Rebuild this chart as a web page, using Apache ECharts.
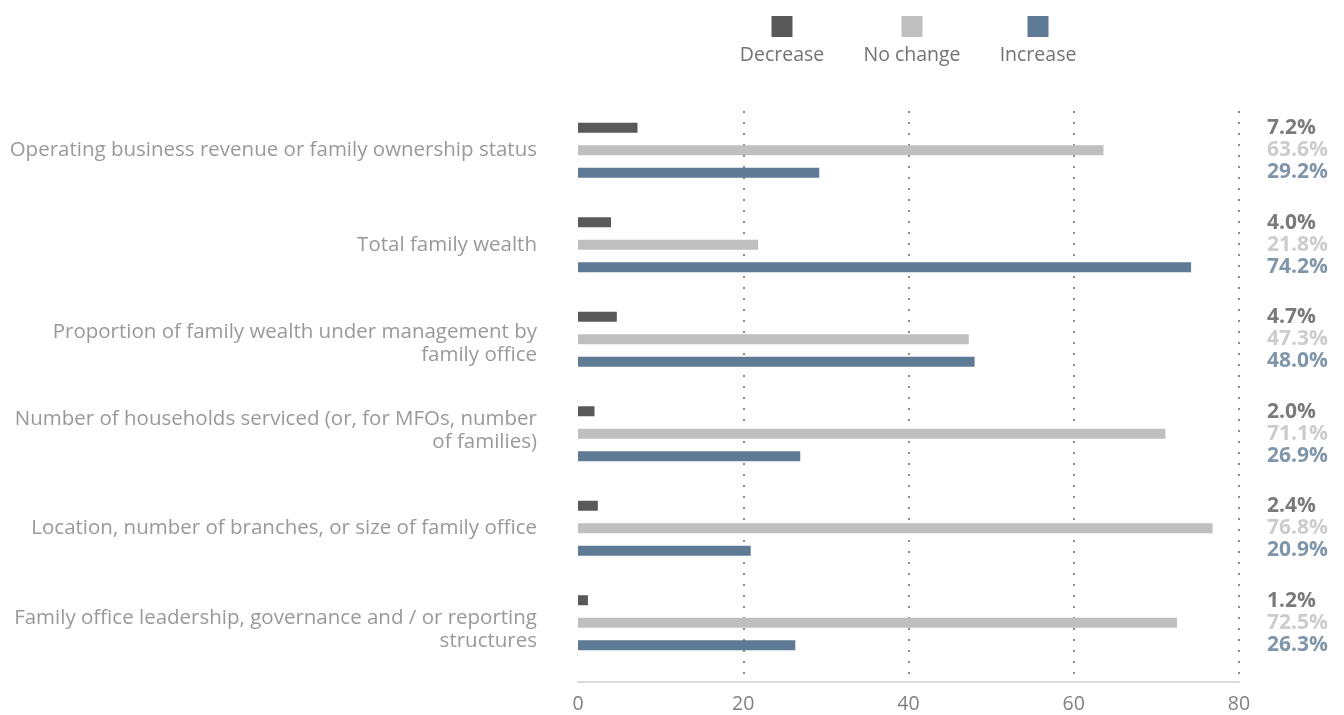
<!DOCTYPE html>
<html>
<head>
<meta charset="utf-8">
<title>Expected changes</title>
<script src="https://cdn.jsdelivr.net/npm/echarts@6/dist/echarts.min.js"></script>
<style>
  html, body { margin: 0; padding: 0; background: #ffffff; }
  #chart { width: 1344px; height: 715px; }
</style>
</head>
<body>
<div id="chart"></div>
<script>
// Areas asked about, top to bottom
const categories = [
  'Operating business revenue or family ownership status',
  'Total family wealth',
  'Proportion of family wealth under management by\nfamily office',
  'Number of households serviced (or, for MFOs, number\nof families)',
  'Location, number of branches, or size of family office',
  'Family office leadership, governance and / or reporting\nstructures'
];

// Share of respondents (%) per answer
const decreaseValues = [7.2, 4.0, 4.7, 2.0, 2.4, 1.2];
const noChangeValues = [63.6, 21.8, 47.3, 71.1, 76.8, 72.5];
const increaseValues = [29.2, 74.2, 48.0, 26.9, 20.9, 26.3];

const seriesNames = ['Decrease', 'No change', 'Increase'];
const xTicks = [0, 20, 40, 60, 80];

const COLORS = ['#595959', '#bfbfbf', '#5f7a94'];
const FONT = '"Open Sans", "Noto Sans", sans-serif';

const valueSets = [decreaseValues, noChangeValues, increaseValues];
const labelOffsets = [-22, 0, 22];

// Vertical nudge of each category label, in px (positive = down)
const labelNudge = [0, 0, 4, -3, 0, 7];

const chart = echarts.init(document.getElementById('chart'), null, { renderer: 'canvas' });

const labelBase = { color: '#999999', fontFamily: FONT, fontSize: 20.5, lineHeight: 23, align: 'right' };
const richStyles = {};
labelNudge.forEach((n, k) => {
  const pad = n >= 0 ? [2 * n, 0, 0, 0] : [0, 0, -2 * n, 0];
  richStyles['c' + k] = Object.assign({}, labelBase, { padding: pad });
});

// Every line of a label gets the same padding, so the block moves as a whole
function categoryLabel(value, idx) {
  return value.split('\n').map(ln => '{c' + idx + '|' + ln + '}').join('\n');
}

const barSeries = seriesNames.map((name, i) => ({
  name: name,
  type: 'bar',
  xAxisIndex: 0,
  yAxisIndex: 0,
  data: valueSets[i],
  barWidth: 10,
  barGap: '125%',
  itemStyle: { color: COLORS[i] },
  silent: true
}));

// Value read-outs in a column to the right of the plot
const readoutSeries = seriesNames.map((name, i) => ({
  name: name + ' value',
  type: 'scatter',
  xAxisIndex: 0,
  yAxisIndex: 0,
  symbolSize: 0,
  clip: false,
  silent: true,
  data: valueSets[i].map((v, k) => ({ value: [80, categories[k]], pct: v })),
  label: {
    show: true,
    position: 'right',
    distance: 28,
    offset: [0, labelOffsets[i]],
    formatter: p => p.data.pct.toFixed(1) + '%',
    color: COLORS[i],
    fontFamily: FONT,
    fontSize: 21,
    fontWeight: 'bold'
  }
}));

// Legend drawn as swatch above name
const legendX = [782, 912, 1038];
const legendGraphics = [];
seriesNames.forEach((name, i) => {
  legendGraphics.push({
    type: 'rect',
    shape: { x: legendX[i] - 10.5, y: 16, width: 21, height: 21 },
    style: { fill: COLORS[i] }
  });
  legendGraphics.push({
    type: 'text',
    x: legendX[i],
    y: 55,
    style: {
      text: name,
      fill: '#737373',
      font: '19.5px ' + FONT,
      textAlign: 'center',
      textVerticalAlign: 'middle'
    }
  });
});

const option = {
  animation: false,
  backgroundColor: '#ffffff',
  graphic: legendGraphics,
  grid: [
    { left: 578, right: 105, top: 103, height: 567, containLabel: false },
    { left: 578, right: 105, top: 111, bottom: 33, containLabel: false }
  ],
  xAxis: [
    {
      type: 'value', gridIndex: 0, min: 0, max: 80, interval: 20,
      show: false
    },
    {
      type: 'value', gridIndex: 1, min: 0, max: 80, interval: 20,
      axisLine: { show: true, lineStyle: { color: '#d9d9d9', width: 2 } },
      axisTick: { show: false },
      axisLabel: {
        color: '#808080', fontFamily: FONT, fontSize: 19.5, margin: 12,
        formatter: v => (xTicks.indexOf(v) >= 0 ? String(v) : '')
      },
      splitLine: {
        show: true,
        showMinLine: false,
        lineStyle: { color: '#8c8c8c', width: 2, type: [2, 9] }
      }
    }
  ],
  yAxis: [
    {
      type: 'category', gridIndex: 0, inverse: true,
      data: categories,
      axisLine: { show: false },
      axisTick: { show: false },
      splitLine: { show: false },
      axisLabel: Object.assign({ margin: 41, formatter: categoryLabel, rich: richStyles }, labelBase)
    },
    {
      type: 'value', gridIndex: 1, show: false
    }
  ],
  series: barSeries.concat(readoutSeries)
};

chart.setOption(option);
</script>
</body>
</html>
